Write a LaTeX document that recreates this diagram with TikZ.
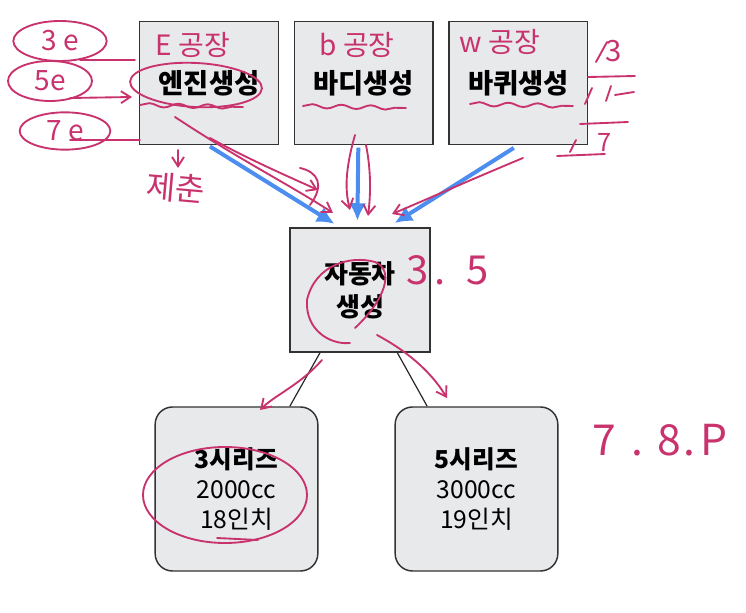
\documentclass[tikz,border=0pt]{standalone}
\usepackage{fontspec}
\setmainfont{Noto Sans CJK KR}
\usetikzlibrary{arrows.meta,shapes.geometric,decorations.pathmorphing}
\definecolor{boxgray}{HTML}{E8E9EB}
\definecolor{flowblue}{HTML}{4C8DF0}
\definecolor{pen}{HTML}{C8336E}

\begin{document}
\begin{tikzpicture}[x=0.75pt,y=-0.75pt,node distance=116pt]
\tikzset{b/.style={draw=black!80, fill=boxgray, line width=1.1pt, minimum width=104pt, minimum height=92pt, align=center, font=\fontsize{20.5}{25}\selectfont\bfseries},
s/.style={draw=black!80, fill=boxgray, line width=1.1pt, rounded corners=13pt, minimum width=122pt, minimum height=123pt, align=center, font=\fontsize{18.5}{22.5}\selectfont},
f/.style={-{Latex[length=13pt,width=13pt]}, draw=flowblue, line width=3pt},
l/.style={draw=black!85, line width=0.9pt},
p/.style={draw=pen, line width=1.4pt, line cap=round},
pa/.style={p, -{Straight Barb[length=7pt,width=9pt]}},
pt/.style={text=pen, font=\fontsize{21}{22}\selectfont},
po/.style={p, ellipse, inner sep=0pt, minimum width=70pt, minimum height=30pt, text=pen, font=\fontsize{21}{22}\selectfont}};
\useasboundingbox (0,0) rectangle (746,613);

% printed diagram
\node[b] (e) at (209,83) {엔진생성};
\node[b, right of=e] (bd) {바디생성};
\node[b, right of=bd] (w) {바퀴생성};
\node[b, minimum width=105pt, minimum height=93pt, font=\fontsize{19.5}{25}\selectfont\bfseries] (car) at (360,290) {자동차\\생성};
\node[s] (s3) at (236.5,489) {\textbf{3시리즈}\\2000cc\\18인치};
\node[s, right of=s3, node distance=180pt] (s5) {\textbf{5시리즈}\\3000cc\\19인치};

\draw[f, shorten <=2pt, shorten >=5pt] ([xshift=-1pt]e.south) -- ([xshift=-15pt]car.north);
\draw[f, shorten <=2pt, shorten >=5pt] ([xshift=-4pt]bd.south) -- ([xshift=-2pt]car.north);
\draw[f, shorten <=4pt, shorten >=6pt] (w.south) -- ([xshift=21pt]car.north);

\draw[l] ([xshift=-30pt]car.south) -- ([xshift=40pt]s3.north);
\draw[l] ([xshift=28pt]car.south) -- ([xshift=-37pt]s5.north);

% pen notes
\node[pt] (ne) at (193,45) {E 공장};
\node[pt] (nb) at (357,45) {b 공장};
\node[pt] (nw) at (500,42) {w 공장};
\node[po] (e3) at (60,41) {3 e};
\node[po, minimum width=63pt] (e5) at (50,81) {5e};
\node[po, minimum width=68pt, minimum height=28pt] (e7) at (65,131) {7 e};
\draw[p] (80,60) -- (135,60);
\draw[pa] (70,98) -- (132,97);
\draw[p] (70,140) -- (140,140);
\draw[p, rotate around={-3:(196,85)}] (196,85) ellipse (66 and 22);
\foreach \a/\b in {140/105, 303/106, 470/104} {
	\draw[p, decorate, decoration={snake, amplitude=1.5pt, segment length=22pt}] (\a,\b) -- ++(103,2);
}
\draw[pa] (178,150) -- (178,168);
\node[pt, font=\fontsize{24}{26}\selectfont, rotate=-5] (jc) at (176,188) {제춘};

\draw[p] (596,62) -- (607,42);
\node[pt, font=\fontsize{22}{24}\selectfont] (n13) at (614,51) {3};
\draw[p] (588,77) -- (635,76);
\draw[p] (585,104) -- (592,88);
\draw[p] (606,101) -- (611,86);
\draw[p] (615,95) -- (634,92);
\draw[p] (580,124) -- (628,122);
\draw[p] (570,152) -- (576,140);
\node[pt, font=\fontsize{19}{20}\selectfont] (n17) at (605,142) {7};
\draw[p] (557,156) -- (605,154);

\draw[pa] (175,117) .. controls (240,160) and (290,185) .. (333,213);
\draw[pa] (210,138) .. controls (250,160) and (285,175) .. (318,190);
\draw[p] (300,168) .. controls (318,172) and (325,185) .. (310,205);
\draw[pa] (355,135) .. controls (345,170) and (345,190) .. (350,210);
\draw[pa] (366,145) .. controls (372,175) and (370,200) .. (368,216);
\draw[pa] (523,158) .. controls (470,180) and (430,198) .. (392,214);

\node[pt, font=\fontsize{30}{32}\selectfont] (n35) at (448,270) {3\hspace{4pt}.\hspace{16pt}5};
\draw[p] (355,328) .. controls (385,300) and (395,270) .. (375,262) .. controls (350,255) and (315,265) .. (307,300) .. controls (305,330) and (330,345) .. (350,343);
\draw[pa] (322,360) .. controls (300,385) and (275,395) .. (260,410);
\draw[pa] (377,335) .. controls (405,350) and (430,370) .. (447,398);

\draw[p] (225,495) ellipse (82 and 48);
\draw[p] (217,538) -- (258,540);
\node[pt, font=\fontsize{32}{34}\selectfont] (n78) at (660,440) {7\hspace{12pt}.\hspace{10pt}8\hspace{2pt}.\hspace{4pt}P};
\end{tikzpicture}
\end{document}
